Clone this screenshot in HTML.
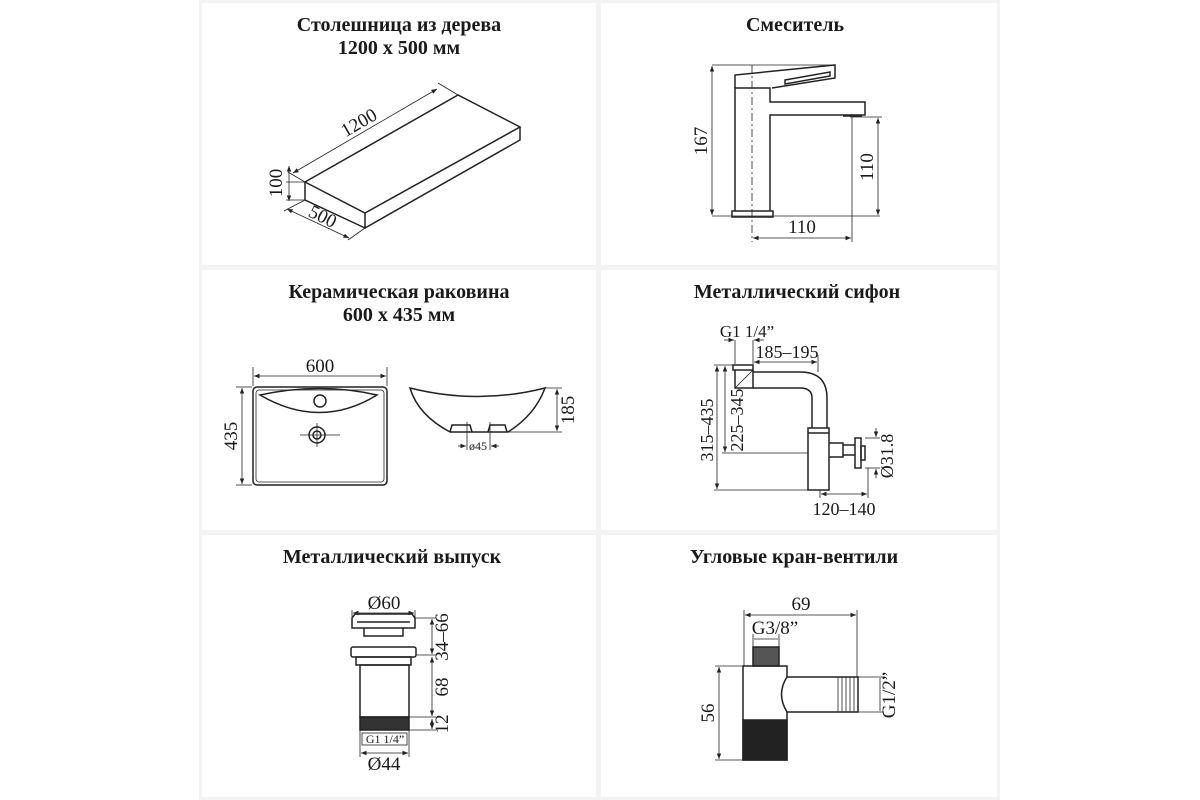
<!DOCTYPE html>
<html><head><meta charset="utf-8"><style>
html,body{margin:0;padding:0;background:#fff;}
svg{display:block}
.t{font-family:"Liberation Serif",serif;font-weight:bold;font-size:20px;fill:#1a1a1a;text-anchor:middle}
.d{font-family:"Liberation Serif",serif;font-size:19px;fill:#1a1a1a;text-anchor:middle}
.s{font-family:"Liberation Serif",serif;font-size:12px;fill:#1a1a1a;text-anchor:middle}
.l{fill:none;stroke:#222;stroke-width:1.5}
.th{fill:none;stroke:#222;stroke-width:0.8}
</style></head><body>
<svg width="1200" height="800" viewBox="0 0 1200 800" xmlns="http://www.w3.org/2000/svg">
<defs>
<marker id="a" viewBox="0 0 10 10" refX="10" refY="5" markerWidth="7" markerHeight="7" orient="auto-start-reverse"><path d="M0,1 L10,5 L0,9 z" fill="#222"/></marker>
</defs>
<g fill="#f3f3f3">
<rect x="201" y="0" width="798" height="3"/>
<rect x="201" y="265" width="798" height="5"/>
<rect x="201" y="530" width="798" height="5"/>
<rect x="201" y="797" width="798" height="3"/>
<rect x="596" y="0" width="5" height="800"/>
<rect x="199" y="0" width="3" height="800"/>
<rect x="997" y="0" width="3" height="800"/>
</g>
<text class="t" x="399" y="31">Столешница из дерева</text>
<text class="t" x="399" y="54">1200 x 500 мм</text>
<text class="t" x="795" y="31">Смеситель</text>
<text class="t" x="399" y="298">Керамическая раковина</text>
<text class="t" x="399" y="321">600 x 435 мм</text>
<text class="t" x="797" y="298">Металлический сифон</text>
<text class="t" x="392" y="563">Металлический выпуск</text>
<text class="t" x="794" y="563">Угловые кран-вентили</text>

<!-- Panel 1 -->
<g class="l">
<path d="M305,182 L458,95 L520,127 L365,213 Z"/>
<path d="M305,182 L305,200 L365,228 L365,213 M365,228 L520,140 L520,127"/>
</g>
<g class="th">
<line x1="458" y1="95" x2="438" y2="83"/>
<line x1="305" y1="182" x2="288" y2="172"/>
<line x1="305" y1="182" x2="286" y2="182"/>
<line x1="305" y1="200" x2="286" y2="200"/>
<line x1="305" y1="200" x2="284" y2="211"/>
<line x1="365" y1="228" x2="348" y2="240"/>
</g>
<line class="th" x1="293" y1="173" x2="437" y2="89" marker-start="url(#a)" marker-end="url(#a)"/>
<line class="th" x1="289" y1="166" x2="289" y2="201" marker-start="url(#a)" marker-end="url(#a)"/>
<line class="th" x1="287" y1="209" x2="349" y2="238" marker-start="url(#a)" marker-end="url(#a)"/>
<text class="d" transform="translate(362,128) rotate(-30)">1200</text>
<text class="d" transform="translate(282,183) rotate(-90)">100</text>
<text class="d" transform="translate(320,222) rotate(26)">500</text>

<!-- Panel 2 -->
<g class="l">
<rect x="732" y="211" width="41" height="6"/>
<path d="M735,211 L735,88 L770,88 L770,102 L865,102 L865,115 L770,115 L770,211"/>
<path d="M735,88 L735,75 L835,65 L835,78 L772,88"/>
<path d="M785,80 L830,72 L830,76 L785,84 Z"/>
<path d="M843,116 L862,116"/>
</g>
<g class="th">
<line x1="712" y1="65" x2="835" y2="65"/>
<line x1="712" y1="216" x2="880" y2="216"/>
<line x1="850" y1="117" x2="882" y2="117"/>
<line x1="752" y1="65" x2="752" y2="242" stroke-dasharray="8,3,2,3"/>
<line x1="852" y1="114" x2="852" y2="242"/>
</g>
<line class="th" x1="712" y1="66" x2="712" y2="215" marker-start="url(#a)" marker-end="url(#a)"/>
<line class="th" x1="878" y1="118" x2="878" y2="215" marker-start="url(#a)" marker-end="url(#a)"/>
<line class="th" x1="753" y1="238" x2="851" y2="238" marker-start="url(#a)" marker-end="url(#a)"/>
<text class="d" transform="translate(707,141) rotate(-90)">167</text>
<text class="d" transform="translate(873,167) rotate(-90)">110</text>
<text class="d" x="802" y="233">110</text>

<!-- Panel 3 -->
<g class="l">
<rect x="253" y="387" width="134" height="98" rx="4"/>
<rect x="256" y="390" width="128" height="92" rx="3" class="th"/>
<path d="M260,395 Q320,382 377,395 Q320,430 260,395 Z"/>
<circle cx="320" cy="401" r="6"/>
<circle cx="317" cy="435" r="8"/>
<circle cx="317" cy="435" r="4"/>
<path d="M410,388 Q478,405 545,388 Q535,415 508,432 L450,432 Q418,415 410,388 Z"/>
<path d="M450,432 L452,425 L470,425 L472,432 M488,432 L490,425 L505,425 L507,432"/>
</g>
<g class="th">
<line x1="300" y1="435" x2="340" y2="435"/>
<line x1="317" y1="423" x2="317" y2="447"/>
<line x1="253" y1="367" x2="253" y2="386"/>
<line x1="387" y1="367" x2="387" y2="386"/>
<line x1="236" y1="387" x2="252" y2="387"/>
<line x1="236" y1="485" x2="252" y2="485"/>
<line x1="545" y1="388" x2="562" y2="388"/>
<line x1="508" y1="432" x2="562" y2="432"/>
<line x1="467" y1="422" x2="467" y2="450"/>
<line x1="490" y1="422" x2="490" y2="450"/>
</g>
<line class="th" x1="254" y1="376" x2="386" y2="376" marker-start="url(#a)" marker-end="url(#a)"/>
<line class="th" x1="242" y1="388" x2="242" y2="484" marker-start="url(#a)" marker-end="url(#a)"/>
<line class="th" x1="557" y1="389" x2="557" y2="431" marker-start="url(#a)" marker-end="url(#a)"/>
<line class="th" x1="458" y1="446" x2="466" y2="446" marker-end="url(#a)"/>
<line class="th" x1="499" y1="446" x2="491" y2="446" marker-end="url(#a)"/>
<text class="d" x="320" y="372">600</text>
<text class="d" transform="translate(237,436) rotate(-90)">435</text>
<text class="d" transform="translate(574,410) rotate(-90)">185</text>
<text class="s" x="478" y="450">ø45</text>

<!-- Panel 4 -->
<g class="l">
<rect x="733" y="365" width="20" height="5"/>
<path d="M735,370 L735,388 L753,388 L753,370"/>
<path d="M735,388 L753,370" class="th"/>
<path d="M753,372 L800,372 Q827,372 827,398 L827,428 M753,388 L800,388 Q812,388 812,398 L812,428"/>
<rect x="808" y="428" width="21" height="62"/>
<line x1="808" y1="433" x2="829" y2="433"/>
<path d="M829,443 L843,443 L843,457 L829,457 M843,445 L855,445 M843,455 L855,455"/>
<rect x="855" y="438" width="6" height="30"/>
<rect x="861" y="446" width="4" height="14"/>
</g>
<g class="th">
<line x1="735" y1="340" x2="735" y2="364"/>
<line x1="753" y1="340" x2="753" y2="364"/>
<line x1="818" y1="355" x2="818" y2="372"/>
<line x1="714" y1="365" x2="733" y2="365"/>
<line x1="722" y1="453" x2="808" y2="453"/>
<line x1="714" y1="490" x2="808" y2="490"/>
<line x1="820" y1="490" x2="820" y2="498"/>
<line x1="868" y1="468" x2="868" y2="498"/>
<line x1="865" y1="438" x2="880" y2="438"/>
<line x1="865" y1="468" x2="880" y2="468"/>
</g>
<line class="th" x1="724" y1="340" x2="734" y2="340" marker-end="url(#a)"/>
<line class="th" x1="764" y1="340" x2="754" y2="340" marker-end="url(#a)"/>
<line class="th" x1="754" y1="362" x2="817" y2="362" marker-start="url(#a)" marker-end="url(#a)"/>
<line class="th" x1="717" y1="366" x2="717" y2="489" marker-start="url(#a)" marker-end="url(#a)"/>
<line class="th" x1="725" y1="366" x2="725" y2="452" marker-start="url(#a)" marker-end="url(#a)"/>
<line class="th" x1="821" y1="494" x2="867" y2="494" marker-start="url(#a)" marker-end="url(#a)"/>
<line class="th" x1="876" y1="428" x2="876" y2="437" marker-end="url(#a)"/>
<line class="th" x1="876" y1="478" x2="876" y2="469" marker-end="url(#a)"/>
<text class="d" x="747" y="337" style="font-size:17px">G1 1/4”</text>
<text class="d" x="787" y="358" style="font-size:18px">185–195</text>
<text class="d" transform="translate(713,430) rotate(-90)" style="font-size:18px">315–435</text>
<text class="d" transform="translate(743,420) rotate(-90)" style="font-size:18px">225–345</text>
<text class="d" x="844" y="515" style="font-size:18px">120–140</text>
<text class="d" transform="translate(893,456) rotate(-90)" style="font-size:18px">Ø31.8</text>

<!-- Panel 5 -->
<g class="l">
<path d="M352,618 L355,614 L412,614 L415,618 L415,628 L352,628 Z"/>
<path d="M357,622 L410,622 M364,628 L364,636 L403,636 L403,628"/>
<rect x="351" y="647" width="65" height="10" rx="2"/>
<rect x="356" y="657" width="55" height="8"/>
<rect x="360" y="665" width="49" height="52"/>
<rect x="360" y="717" width="49" height="13" fill="#333"/>
<rect x="362" y="733" width="45" height="12" class="th"/>
</g>
<g class="th">
<line x1="415" y1="618" x2="436" y2="618"/>
<line x1="416" y1="655" x2="436" y2="655"/>
<line x1="409" y1="717" x2="436" y2="717"/>
<line x1="409" y1="730" x2="436" y2="730"/>
<line x1="360" y1="730" x2="360" y2="757"/>
<line x1="409" y1="730" x2="409" y2="757"/>
<line x1="352" y1="610" x2="352" y2="618"/>
<line x1="415" y1="610" x2="415" y2="618"/>
</g>
<line class="th" x1="353" y1="613" x2="414" y2="613" marker-start="url(#a)" marker-end="url(#a)"/>
<line class="th" x1="432" y1="619" x2="432" y2="654" marker-start="url(#a)" marker-end="url(#a)"/>
<line class="th" x1="432" y1="657" x2="432" y2="716" marker-start="url(#a)" marker-end="url(#a)"/>
<line class="th" x1="432" y1="719" x2="432" y2="729" marker-start="url(#a)" marker-end="url(#a)"/>
<line class="th" x1="361" y1="753" x2="408" y2="753" marker-start="url(#a)" marker-end="url(#a)"/>
<text class="d" x="384" y="609">Ø60</text>
<text class="s" x="385" y="743">G1 1/4”</text>
<text class="d" x="384" y="770">Ø44</text>
<text class="d" transform="translate(448,637) rotate(-90)">34–66</text>
<text class="d" transform="translate(448,687) rotate(-90)">68</text>
<text class="d" transform="translate(448,724) rotate(-90)">12</text>

<!-- Panel 6 -->
<g class="l">
<rect x="753" y="647" width="26" height="19" fill="#555"/>
<path d="M743,760 L743,666 L787,666 L787,677 L858,677 L858,712 L787,712 L787,760 Z"/>
<path d="M787,677 Q776,694 787,712"/>
<rect x="743" y="720" width="44" height="40" fill="#222"/>
</g>
<g class="th">
<path d="M838,677 L838,712 M842,677 L842,712 M846,677 L846,712 M850,677 L850,712 M854,677 L854,712"/>
<line x1="744" y1="610" x2="744" y2="666"/>
<line x1="857" y1="610" x2="857" y2="677"/>
<line x1="753" y1="634" x2="753" y2="647"/>
<line x1="779" y1="634" x2="779" y2="647"/>
<line x1="715" y1="666" x2="743" y2="666"/>
<line x1="715" y1="760" x2="743" y2="760"/>
<line x1="858" y1="677" x2="884" y2="677"/>
<line x1="858" y1="712" x2="884" y2="712"/>
</g>
<line class="th" x1="745" y1="615" x2="856" y2="615" marker-start="url(#a)" marker-end="url(#a)"/>
<line class="th" x1="754" y1="639" x2="778" y2="639"/>
<line class="th" x1="719" y1="667" x2="719" y2="759" marker-start="url(#a)" marker-end="url(#a)"/>
<line class="th" x1="880" y1="678" x2="880" y2="711"/>
<text class="d" x="801" y="610">69</text>
<text class="d" x="775" y="634">G3/8”</text>
<text class="d" transform="translate(714,713) rotate(-90)">56</text>
<text class="d" transform="translate(895,695) rotate(-90)">G1/2”</text>
</svg>
</body></html>
